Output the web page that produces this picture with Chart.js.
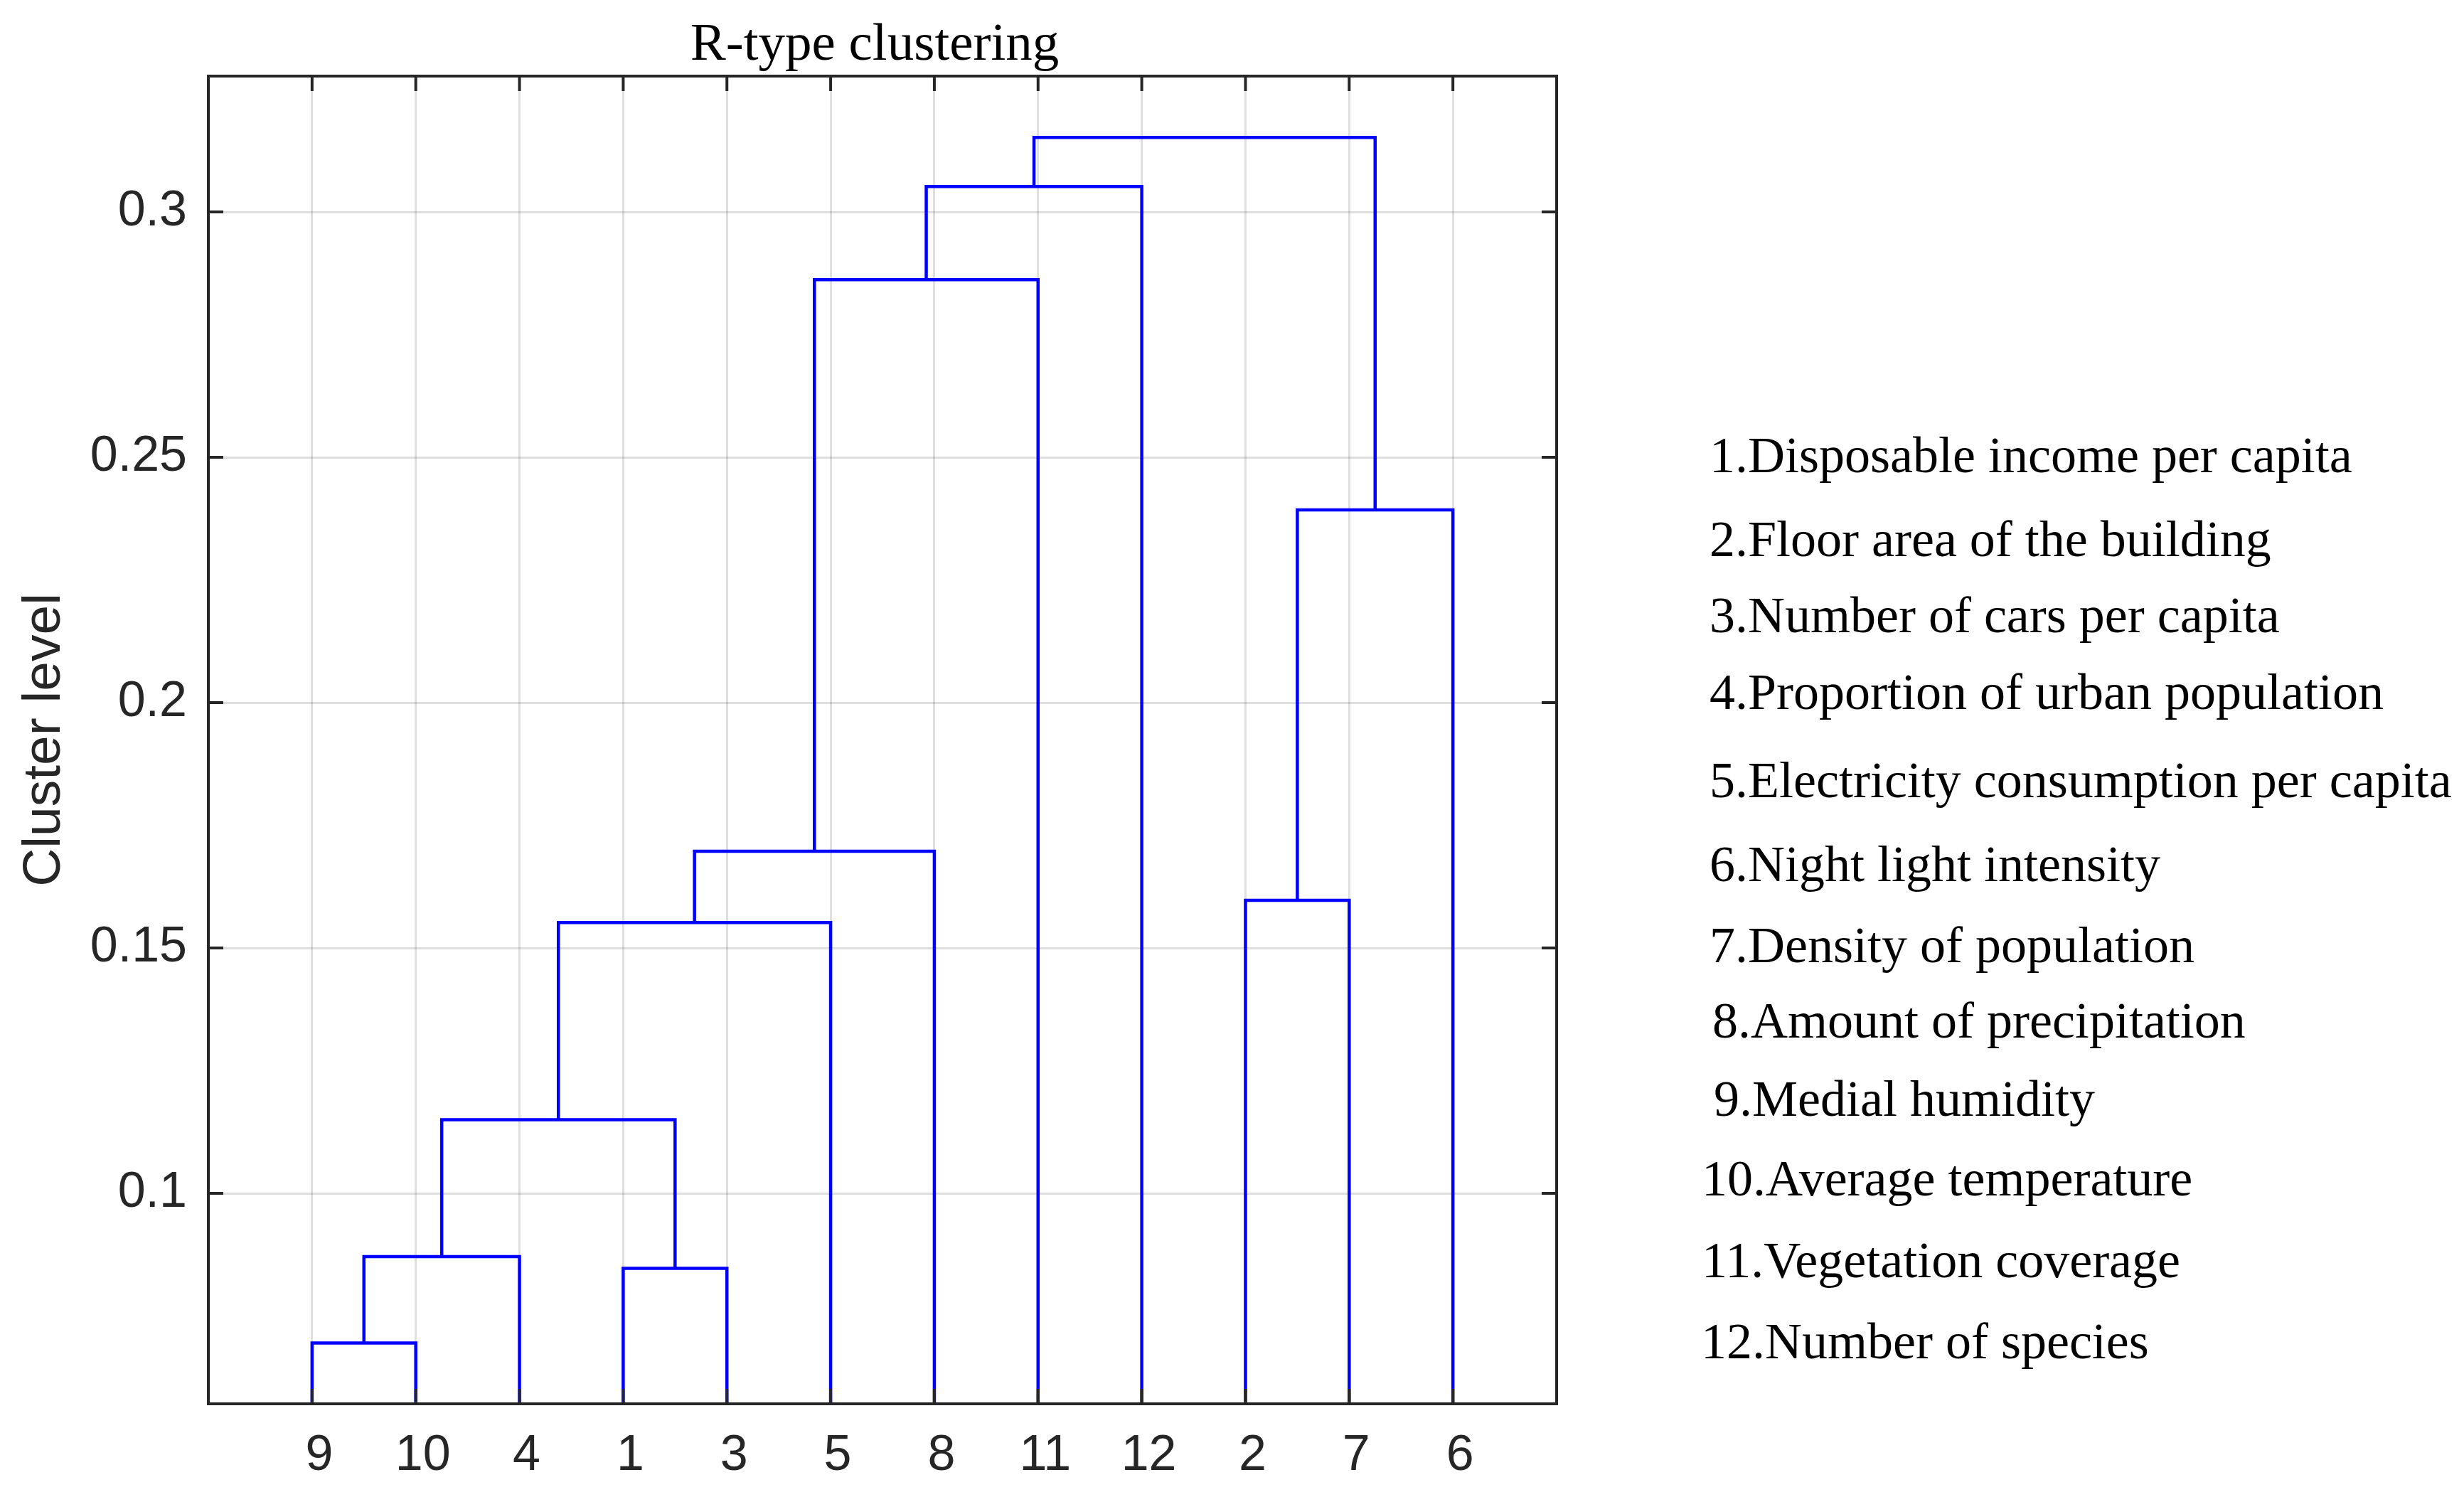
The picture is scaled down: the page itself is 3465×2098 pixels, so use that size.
<!DOCTYPE html>
<html>
<head>
<meta charset="utf-8">
<title>R-type clustering</title>
<script src="https://cdn.jsdelivr.net/npm/chart.js@4"></script>
<style>
    body { margin: 0; background: #ffffff; }
    #wrap { position: relative; width: 3465px; height: 2098px; background: #ffffff; }
    #chart { position: absolute; left: 0; top: 0; }
    .var-name {
        position: absolute;
        font-family: "Liberation Serif", "Times New Roman", serif;
        font-size: 72px;
        line-height: 1;
        color: #000000;
        white-space: nowrap;
        transform: translateY(-50%);
    }
</style>
</head>
<body>
<div id="wrap">
    <canvas id="chart" width="2460" height="2098"></canvas>
</div>
<script>
// leaf order along the bottom of the dendrogram
const leafOrder = [9, 10, 4, 1, 3, 5, 8, 11, 12, 2, 7, 6];

// merges (linkage style): new cluster ids start at 13
const mergeLeft = [9, 1, 13, 15, 16, 2, 17, 18, 19, 21, 22];
const mergeRight = [10, 3, 4, 14, 5, 7, 8, 6, 11, 12, 20];
const mergeHeight = [0.0695, 0.0847, 0.0871, 0.1150, 0.1552, 0.1597, 0.1697, 0.2393, 0.2862, 0.3052, 0.3152];

const yTickValues = [0.1, 0.15, 0.2, 0.25, 0.3];

const variableNames = [
    '1.Disposable income per capita',
    '2.Floor area of the building',
    '3.Number of cars per capita',
    '4.Proportion of urban population',
    '5.Electricity consumption per capita',
    '6.Night light intensity',
    '7.Density of population',
    '8.Amount of precipitation',
    '9.Medial humidity',
    '10.Average temperature',
    '11.Vegetation coverage',
    '12.Number of species'
];

// where the list of names sits on the page (layout only)
const nameTop = [640, 758, 865, 973, 1097, 1215, 1329, 1435, 1545, 1657, 1772, 1886];
const nameLeft = [2404, 2404, 2404, 2404, 2404, 2404, 2404, 2408, 2410, 2393, 2393, 2392];

const blue = '#0000ff';
const axisColor = '#262626';

// build one U-shaped link per merge
function buildLinks() {
    const nodeX = {};
    const nodeH = {};
    leafOrder.forEach((leaf, i) => {
        nodeX[leaf] = i + 1;
        nodeH[leaf] = 0;
    });
    const n = leafOrder.length;
    const sets = [];
    for (let i = 0; i < mergeHeight.length; i++) {
        const a = mergeLeft[i];
        const b = mergeRight[i];
        const h = mergeHeight[i];
        sets.push({
            data: [
                { x: nodeX[a], y: nodeH[a] },
                { x: nodeX[a], y: h },
                { x: nodeX[b], y: h },
                { x: nodeX[b], y: nodeH[b] }
            ],
            borderColor: blue,
            borderWidth: 4.5,
            pointRadius: 0,
            fill: false,
            tension: 0,
            showLine: true
        });
        const id = n + i + 1;
        nodeX[id] = (nodeX[a] + nodeX[b]) / 2;
        nodeH[id] = h;
    }
    return sets;
}

// box round the plot with inward ticks on all four sides
const axisBox = {
    id: 'axisBox',
    afterDatasetsDraw(chart) {
        const ctx = chart.ctx;
        const a = chart.chartArea;
        const x = chart.scales.x;
        const y = chart.scales.y;
        const t = 21;
        ctx.save();
        ctx.strokeStyle = axisColor;
        ctx.lineWidth = 4;
        ctx.beginPath();
        x.ticks.forEach(tk => {
            const px = x.getPixelForValue(tk.value);
            ctx.moveTo(px, a.top);
            ctx.lineTo(px, a.top + t);
            ctx.moveTo(px, a.bottom);
            ctx.lineTo(px, a.bottom - t);
        });
        y.ticks.forEach(tk => {
            const py = y.getPixelForValue(tk.value);
            ctx.moveTo(a.left, py);
            ctx.lineTo(a.left + t, py);
            ctx.moveTo(a.right, py);
            ctx.lineTo(a.right - t, py);
        });
        ctx.stroke();
        ctx.strokeRect(a.left, a.top, a.right - a.left, a.bottom - a.top);
        ctx.restore();
    }
};

const ctx = document.getElementById('chart').getContext('2d');
const myChart = new Chart(ctx, {
    type: 'scatter',
    data: { datasets: buildLinks() },
    plugins: [axisBox],
    options: {
        responsive: false,
        animation: false,
        layout: { padding: 0 },
        plugins: {
            legend: { display: false },
            tooltip: { enabled: false },
            title: {
                display: true,
                text: 'R-type clustering',
                color: '#000000',
                font: { family: '"Liberation Serif", "Times New Roman", serif', size: 75, weight: 'normal', lineHeight: 1.1 },
                padding: { top: 23, bottom: 1.5 }
            }
        },
        scales: {
            x: {
                type: 'linear',
                min: 0,
                max: 13,
                afterBuildTicks: scale => {
                    scale.ticks = leafOrder.map((_, i) => ({ value: i + 1 }));
                },
                afterFit: scale => { scale.height = 124; },
                ticks: {
                    autoSkip: false,
                    maxRotation: 0,
                    padding: 32,
                    labelOffset: 10,
                    color: axisColor,
                    font: { family: '"Liberation Sans", Arial, sans-serif', size: 70 },
                    callback: value => String(leafOrder[value - 1])
                },
                grid: { color: 'rgba(38,38,38,0.15)', lineWidth: 3, drawTicks: false },
                border: { display: false }
            },
            y: {
                type: 'linear',
                min: 0.0571,
                max: 0.3277,
                afterBuildTicks: scale => {
                    scale.ticks = yTickValues.map(v => ({ value: v }));
                },
                afterFit: scale => { scale.width = 293; },
                ticks: {
                    padding: 30,
                    color: axisColor,
                    font: { family: '"Liberation Sans", Arial, sans-serif', size: 70 },
                    callback: value => String(value)
                },
                grid: { color: 'rgba(38,38,38,0.15)', lineWidth: 3, drawTicks: false },
                border: { display: false },
                title: {
                    display: true,
                    text: 'Cluster level',
                    color: axisColor,
                    font: { family: '"Liberation Sans", Arial, sans-serif', size: 75, lineHeight: 1.2 },
                    padding: { top: 18, bottom: 0 }
                }
            },
            // empty right axis only to keep the title centred over the plot
            yRight: {
                type: 'linear',
                position: 'right',
                min: 0.0571,
                max: 0.3277,
                afterFit: scale => { scale.width = 271; },
                ticks: { display: false },
                grid: { display: false, drawTicks: false },
                border: { display: false }
            }
        }
    }
});

// the numbered list of variables on the right
const wrap = document.getElementById('wrap');
variableNames.forEach((name, i) => {
    const div = document.createElement('div');
    div.className = 'var-name';
    div.textContent = name;
    div.style.left = nameLeft[i] + 'px';
    div.style.top = nameTop[i] + 'px';
    wrap.appendChild(div);
});
</script>
</body>
</html>
